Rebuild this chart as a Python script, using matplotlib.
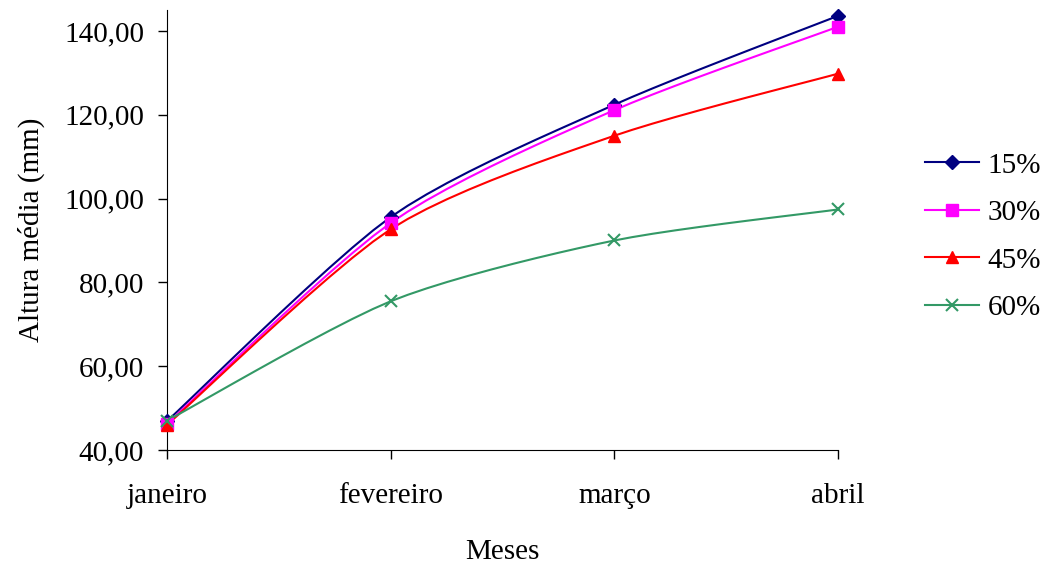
import matplotlib
matplotlib.use('Agg')
import matplotlib.pyplot as plt
import numpy as np

meses = ['janeiro', 'fevereiro', 'março', 'abril']
series_labels = ['15%', '30%', '45%', '60%']
alt_15 = [46.9, 95.6, 122.4, 143.6]
alt_30 = [46.3, 94.2, 121.1, 141.0]
alt_45 = [46.0, 92.7, 115.0, 129.8]
alt_60 = [47.0, 75.5, 90.0, 97.4]

colors = ['#000080', '#FF00FF', '#FF0000', '#339966']
markers = ['D', 's', '^', 'x']
msizes = [7, 9, 9, 9]


def smooth(x, y, n=12, k=0.13):
    # excel style smoothed line: bezier with endpoints duplicated
    x = np.asarray(x, float)
    y = np.asarray(y, float)
    px = np.concatenate([[x[0]], x, [x[-1]]])
    py = np.concatenate([[y[0]], y, [y[-1]]])
    xs, ys = [x[0]], [y[0]]
    t = np.linspace(0, 1, n)[1:]
    for i in range(1, len(px) - 2):
        for p, out in ((px, xs), (py, ys)):
            b0 = p[i]
            b1 = p[i] + (p[i + 1] - p[i - 1]) * k
            b2 = p[i + 1] - (p[i + 2] - p[i]) * k
            b3 = p[i + 1]
            out.extend((1 - t) ** 3 * b0 + 3 * (1 - t) ** 2 * t * b1
                       + 3 * (1 - t) * t ** 2 * b2 + t ** 3 * b3)
    return np.array(xs), np.array(ys)


plt.rcParams['font.family'] = ['Liberation Serif', 'DejaVu Serif']

fig = plt.figure(figsize=(10.48, 5.67), dpi=100)
ax = fig.add_axes([0.1594, 0.2063, 0.6402, 0.7761])

xpos = np.arange(len(meses))
for vals, lab, c, m, ms in zip([alt_15, alt_30, alt_45, alt_60], series_labels,
                               colors, markers, msizes):
    sx, sy = smooth(xpos, vals)
    ax.plot(sx, sy, color=c, lw=1.5, zorder=2)
    ax.plot(xpos, vals, linestyle='none', marker=m, color=c, ms=ms,
            mew=1.5 if m == 'x' else 1, zorder=3, clip_on=False)
    ax.plot([], [], color=c, lw=1.5, marker=m, ms=ms,
            mew=1.5 if m == 'x' else 1, label=lab)

ax.set_xlim(0, 3)
ax.set_ylim(40, 145)
ax.set_yticks(np.arange(40, 141, 20))
ax.set_yticklabels([f'{v:.2f}'.replace('.', ',') for v in np.arange(40, 141, 20)])
ax.set_xticks(xpos)
ax.set_xticklabels(meses)
ax.tick_params(labelsize=21, length=6.5, width=1, direction='out')
ax.tick_params(axis='y', pad=10)
ax.tick_params(axis='x', pad=17)
ax.spines['top'].set_visible(False)
ax.spines['right'].set_visible(False)
ax.set_xlabel('Meses', fontsize=21, labelpad=22)
ax.set_ylabel('Altura média (mm)', fontsize=21, labelpad=14)

ax.legend(loc='center left', bbox_to_anchor=(1.09, 0.485), frameon=False,
          fontsize=21, handlelength=1.85, labelspacing=0.72, handletextpad=0.3)

fig.savefig('out.png', dpi=100)
